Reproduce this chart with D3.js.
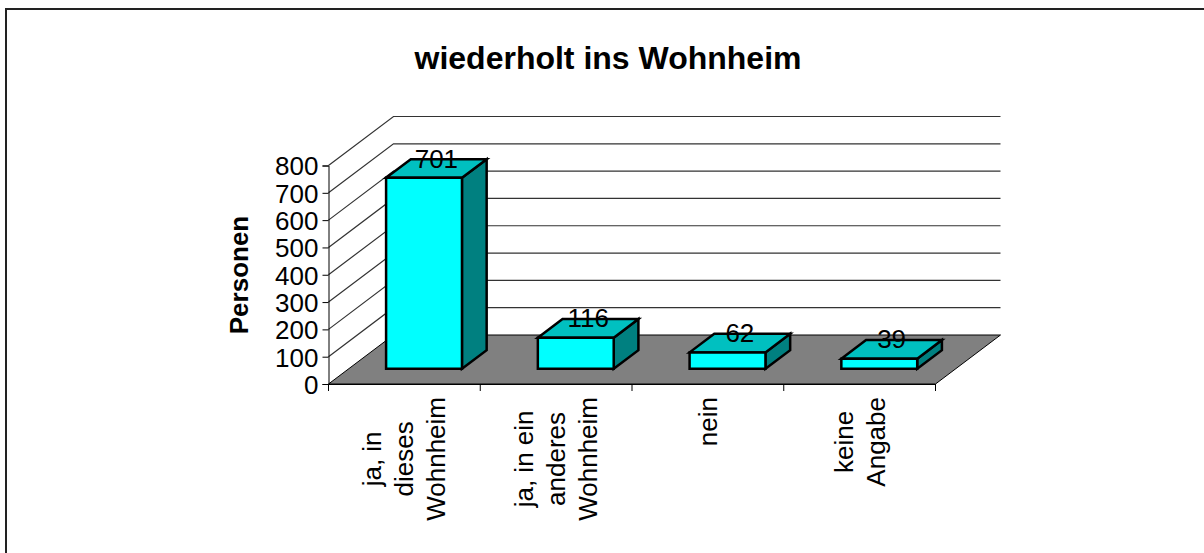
<!DOCTYPE html>
<html><head><meta charset="utf-8">
<script src="https://cdn.jsdelivr.net/npm/d3@7"></script>
<style>html,body{margin:0;padding:0;background:#fff}svg{display:block}text{font-family:"Liberation Sans",Arial,sans-serif;fill:#000}</style>
</head><body><svg id="c" width="1204" height="553"></svg>
<script>
const categories=[["ja, in","dieses","Wohnheim"],["ja, in ein","anderes","Wohnheim"],["nein"],["keine","Angabe"]];
const values=[701,116,62,39];
const yTicks=[0,100,200,300,400,500,600,700,800];
const titleText="wiederholt ins Wohnheim";
const yLabel="Personen";

const svg=d3.select("#c");
const x=d3.scaleBand().domain(d3.range(categories.length)).range([328.5,935.5]).paddingInner(0).paddingOuter(0);
const y=d3.scaleLinear().domain([0,800]).range([384,165.5]);
const depth=d3.scaleLinear().domain([0,1]).range([0,1]);
const dx=65,dy=-49;
const off=t=>[depth(t)*dx,depth(t)*dy];
const barDepthStart=0.31,barDepthEnd=0.69;
const L=d3.line();

// chart frame: only the top and left edges fall inside the picture
svg.append("path").attr("d",L([[6,553],[6,9],[1204,9]])).attr("fill","none").attr("stroke","#222").attr("stroke-width",2);

svg.append("text").attr("x",608).attr("y",69).attr("text-anchor","middle").attr("font-size",32).attr("font-weight","bold").text(titleText);

const x0=x.range()[0],x1=x.range()[1];
svg.append("path").attr("d",L([[x0,y(0)],[x1,y(0)],[x1+dx,y(0)+dy],[x0+dx,y(0)+dy]])+"Z").attr("fill","#808080").attr("stroke","#000");

yTicks.forEach((t,i)=>{
  if(i>0) svg.append("path").attr("fill","none").attr("stroke","#333").attr("stroke-width",1.2)
    .attr("d",L([[x0,y(t)],[x0+dx,y(t)+dy],[x1+dx,y(t)+dy]]));
});

const yAxis=d3.axisLeft(y).tickValues(yTicks).tickSize(6).tickPadding(4).tickFormat(d3.format("d"));
const gy=svg.append("g").attr("transform",`translate(${x0},0)`).call(yAxis);
gy.selectAll("text").attr("font-size",26).attr("dy","0.36em").style("font-family",'"Liberation Sans",Arial,sans-serif');
gy.selectAll("path,line").attr("stroke","#000");
const edges=d3.range(categories.length+1);
svg.append("line").attr("x1",x0).attr("x2",x1).attr("y1",y(0)+.5).attr("y2",y(0)+.5).attr("stroke","#000");
svg.selectAll(".xt").data(edges).join("line").attr("x1",i=>x0+i*x.bandwidth()).attr("x2",i=>x0+i*x.bandwidth()).attr("y1",y(0)).attr("y2",y(0)+7).attr("stroke","#000");
svg.append("text").attr("transform",`translate(248,275) rotate(-90)`).attr("text-anchor","middle").attr("font-size",26).attr("font-weight","bold").text(yLabel);

const bw=x.bandwidth()*0.5;
const g=svg.append("g");
values.forEach((v,i)=>{
  const cx=x(i)+x.bandwidth()/2-0.5;
  const [ox,oy]=off(barDepthStart);
  const [bx,by]=[(barDepthEnd-barDepthStart)*dx,(barDepthEnd-barDepthStart)*dy];
  const l=cx-bw/2+ox,r=cx+bw/2+ox,b=y(0)+oy,t=y(v)+oy+0.5;
  const st=s=>s.attr("stroke","#000").attr("stroke-width",2.5).attr("stroke-linejoin","miter");
  st(g.append("path").attr("d",L([[r,b],[r+bx,b+by],[r+bx,t+by],[r,t]])+"Z").attr("fill","#008080"));
  st(g.append("path").attr("d",L([[l,t],[r,t],[r+bx,t+by],[l+bx,t+by]])+"Z").attr("fill","#00c0c0"));
  st(g.append("path").attr("d",L([[l,b],[r,b],[r,t],[l,t]])+"Z").attr("fill","#00ffff"));
  svg.append("text").attr("x",cx+ox+bx/2).attr("y",t+by/2-1).attr("text-anchor","middle").attr("font-size",26).text(v);
});

const tmp=svg.append("text").attr("font-size",26).attr("visibility","hidden");
const widthOf=s=>{tmp.text(s);return tmp.node().getComputedTextLength();};
categories.forEach((lines,i)=>{
  const cx=x(i)+x.bandwidth()/2;
  const n=lines.length, lh=32;
  const blockH=d3.max(lines,widthOf);
  const mid=397+blockH/2;
  lines.forEach((s,j)=>{
    const px=cx+(j-(n-1)/2)*lh+9;
    svg.append("text").attr("transform",`translate(${px},${mid}) rotate(-90)`).attr("text-anchor","middle").attr("font-size",26).text(s);
  });
});
tmp.remove();
</script></body></html>
